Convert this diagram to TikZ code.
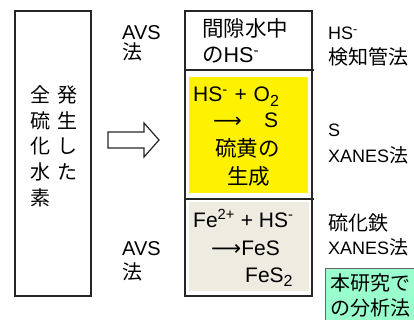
\documentclass[tikz,border=0pt]{standalone}
\usepackage{fontspec}
\setmainfont{Liberation Sans}
\newfontfamily\jp{Noto Sans CJK JP}
\newfontfamily\arr{DejaVu Sans}
\definecolor{beige}{HTML}{EEECE1}
\definecolor{mint}{HTML}{99FFCC}
\tikzset{
  txt/.style={anchor=base west, inner sep=0pt, font=\fontsize{20}{24}\selectfont},
  big/.style={txt, font=\fontsize{21}{24}\selectfont},
  jbig/.style={txt, font=\fontsize{21.5}{24}\selectfont},
  small/.style={txt, font=\fontsize{18}{24}\selectfont},
  vch/.style={anchor=center, inner sep=0pt, font=\fontsize{20}{22}\selectfont\jp},
  frame/.style={draw=black!85, line width=2pt},
}
\begin{document}
\begin{tikzpicture}[x=1pt,y=-1pt]
\useasboundingbox (0,0) rectangle (414,320);
% left box
\draw[frame] (15,11) rectangle (91,296);
% vertical text: right column then left column
\node[vch] (c1) at (67,95) {発};
\node[vch] (c2) at (67,120.5) {生};
\node[vch] (c3) at (67,146.5) {し};
\node[vch] (c4) at (67,172) {た};
\node[vch] (c5) at (40.5,95) {全};
\node[vch] (c6) at (40.5,120.5) {硫};
\node[vch] (c7) at (40.5,146.5) {化};
\node[vch] (c8) at (40.5,172) {水};
\node[vch] (c9) at (40.5,198) {素};
% block arrow
\draw[line width=1.2pt, black!85, line join=miter]
  (108,132) -- (144,132) -- (144,123) -- (159,140) -- (144,157) -- (144,148) -- (108,148) -- cycle;
% AVS labels
\node[txt] (avs1) at (122,40) {AVS};
\node[txt] (ho1) at (122,60) {\jp 法};
\node[txt] (avs2) at (122,255) {AVS};
\node[txt] (ho2) at (122,279) {\jp 法};
% right box fills
\fill[yellow] (189,77) rectangle (308,193);
\fill[beige] (189,202) rectangle (309,291);
\draw[frame] (185,11) rectangle (312,296);
\draw[line width=1.5pt, black!85] (185,70) -- (314,70);
\draw[line width=1.5pt, black!85] (185,199) -- (314,199);
% top section
\node[jbig] (t1) at (202,37) {\jp 間隙水中};
\node[jbig] (t2) at (202,63) {{\jp の}HS\textsuperscript{-}};
% yellow section
\node[big] (y1) at (193,102) {HS\textsuperscript{-}\hspace{1pt} + \hspace{1pt}O\textsubscript{\fontsize{16}{16}\selectfont 2}};
\node[txt] (y2) at (213,128) {\arr ⟶};
\node[big] (y3) at (264,128) {S};
\node[jbig] (y4) at (215,157) {\jp 硫黄の};
\node[jbig] (y5) at (227,185) {\jp 生成};
% beige section
\node[big] (b1) at (193,227) {Fe\textsuperscript{2+} + HS\textsuperscript{-}};
\node[big] (b2) at (211,255) {{\arr ⟶}FeS};
\node[big] (b3) at (245,282) {FeS\textsubscript{\fontsize{16}{16}\selectfont 2}};
% right labels
\node[small] (r1) at (328,40) {HS\textsuperscript{-}};
\node[txt] (r2) at (328,65) {\jp 検知管法};
\node[small] (r3) at (328,137) {S};
\node[small] (r4) at (328,163) {XANES{\fontsize{19}{24}\selectfont\jp 法}};
\node[txt] (r5) at (328,230) {\jp 硫化鉄};
\node[small] (r6) at (328,254) {XANES{\fontsize{19}{24}\selectfont\jp 法}};
% green box
\draw[fill=mint, draw=black!60, line width=0.8pt] (325,268) rectangle (420,325);
\node[txt] (g1) at (330,290) {\jp 本研究で};
\node[txt] (g2) at (330,315) {\jp の分析法};
\end{tikzpicture}
\end{document}
